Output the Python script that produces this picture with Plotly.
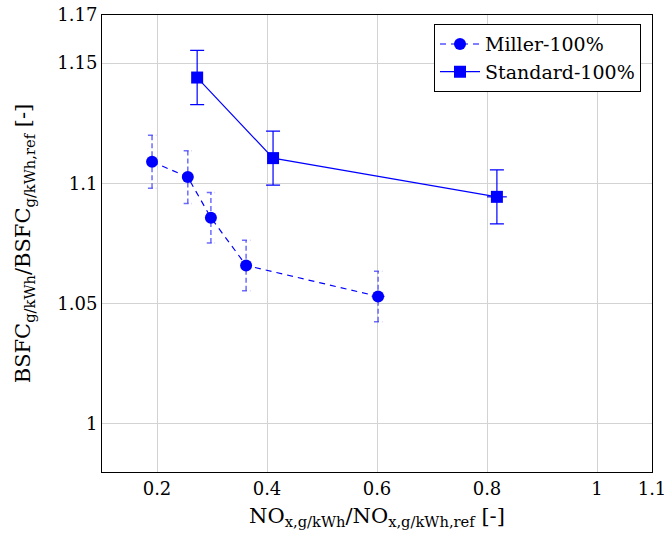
import plotly.graph_objects as go

# Data
miller_x = [0.191, 0.256, 0.298, 0.362, 0.602]
miller_y = [1.109, 1.1026, 1.0857, 1.0659, 1.053]
miller_err = [0.011, 0.011, 0.0105, 0.0105, 0.0105]
miller_xerr = [0.006, 0.006, 0.006, 0.006, 0.012]

std_x = [0.273, 0.411, 0.818]
std_y = [1.144, 1.1105, 1.0944]
std_err = [0.0113, 0.0112, 0.0112]
std_xerr = [0.006, 0.006, 0.018]

x_ticks = [0.2, 0.4, 0.6, 0.8, 1, 1.1]
x_ticklabels = ["0.2", "0.4", "0.6", "0.8", "1", "1.1"]
y_ticks = [1, 1.05, 1.1, 1.15, 1.17]
y_ticklabels = ["1", "1.05", "1.1", "1.15", "1.17"]

FONT = "DejaVu Serif"
BLUE = "#0000ff"
EB = "rgba(60,60,255,0.75)"
CAP = 0.0075  # half cap width in x units

fig = go.Figure()

# dashed error bars for Miller (vertical + caps)
ex, ey = [], []
for x, y, e in zip(miller_x, miller_y, miller_err):
    ex += [x, x, None, x - CAP, x + CAP, None, x - CAP, x + CAP, None]
    ey += [y - e, y + e, None, y + e, y + e, None, y - e, y - e, None]
fig.add_trace(go.Scatter(x=ex, y=ey, mode="lines", showlegend=False,
                         line=dict(color=EB, width=1.5, dash="5px,3px"),
                         hoverinfo="skip"))
# small horizontal error for Miller
hx, hy = [], []
for x, y, e in zip(miller_x, miller_y, miller_xerr):
    hx += [x - e, x + e, None]
    hy += [y, y, None]
fig.add_trace(go.Scatter(x=hx, y=hy, mode="lines", showlegend=False,
                         line=dict(color=EB, width=1.5), hoverinfo="skip"))

fig.add_trace(go.Scatter(
    x=miller_x, y=miller_y, mode="lines+markers", name="Miller-100%",
    line=dict(color=BLUE, width=1.2, dash="6px,5px"),
    marker=dict(symbol="circle", size=12, color=BLUE),
))

fig.add_trace(go.Scatter(
    x=std_x, y=std_y, mode="lines+markers", name="Standard-100%",
    line=dict(color=BLUE, width=1.2),
    marker=dict(symbol="square", size=12, color=BLUE),
    error_y=dict(type="data", array=std_err, visible=True, color=BLUE,
                 thickness=1.2, width=7),
    error_x=dict(type="data", array=std_xerr, visible=True, color=BLUE,
                 thickness=1.2, width=0),
))

axis_common = dict(
    showline=True, linecolor="black", linewidth=1, mirror=True,
    showgrid=True, gridcolor="#d3d3d3", gridwidth=1.3,
    ticks="", zeroline=False, automargin=False,
    ticklabeloverflow="allow",
    tickfont=dict(family=FONT, size=18, color="black"),
)

fig.update_layout(
    width=665, height=542,
    margin=dict(l=102, r=13, t=15, b=70),
    plot_bgcolor="white", paper_bgcolor="white",
    font=dict(family=FONT, size=18, color="black"),
    xaxis=dict(range=[0.1, 1.1], tickvals=x_ticks, ticktext=x_ticklabels,
               title=dict(text="NO<sub>x,g/kWh</sub>/NO<sub>x,g/kWh,ref</sub> [-]",
                          font=dict(family=FONT, size=21), standoff=10),
               **axis_common),
    yaxis=dict(range=[0.98, 1.17], tickvals=y_ticks, ticktext=y_ticklabels,
               title=dict(text="BSFC<sub>g/kWh</sub>/BSFC<sub>g/kWh,ref</sub> [-]",
                          font=dict(family=FONT, size=21), standoff=20),
               **axis_common),
    legend=dict(x=0.98, y=0.98, xanchor="right", yanchor="top",
                bgcolor="white", bordercolor="black", borderwidth=1,
                font=dict(family=FONT, size=19), tracegroupgap=0,
                itemwidth=40),
    showlegend=True,
)

fig.write_html("out.html")
